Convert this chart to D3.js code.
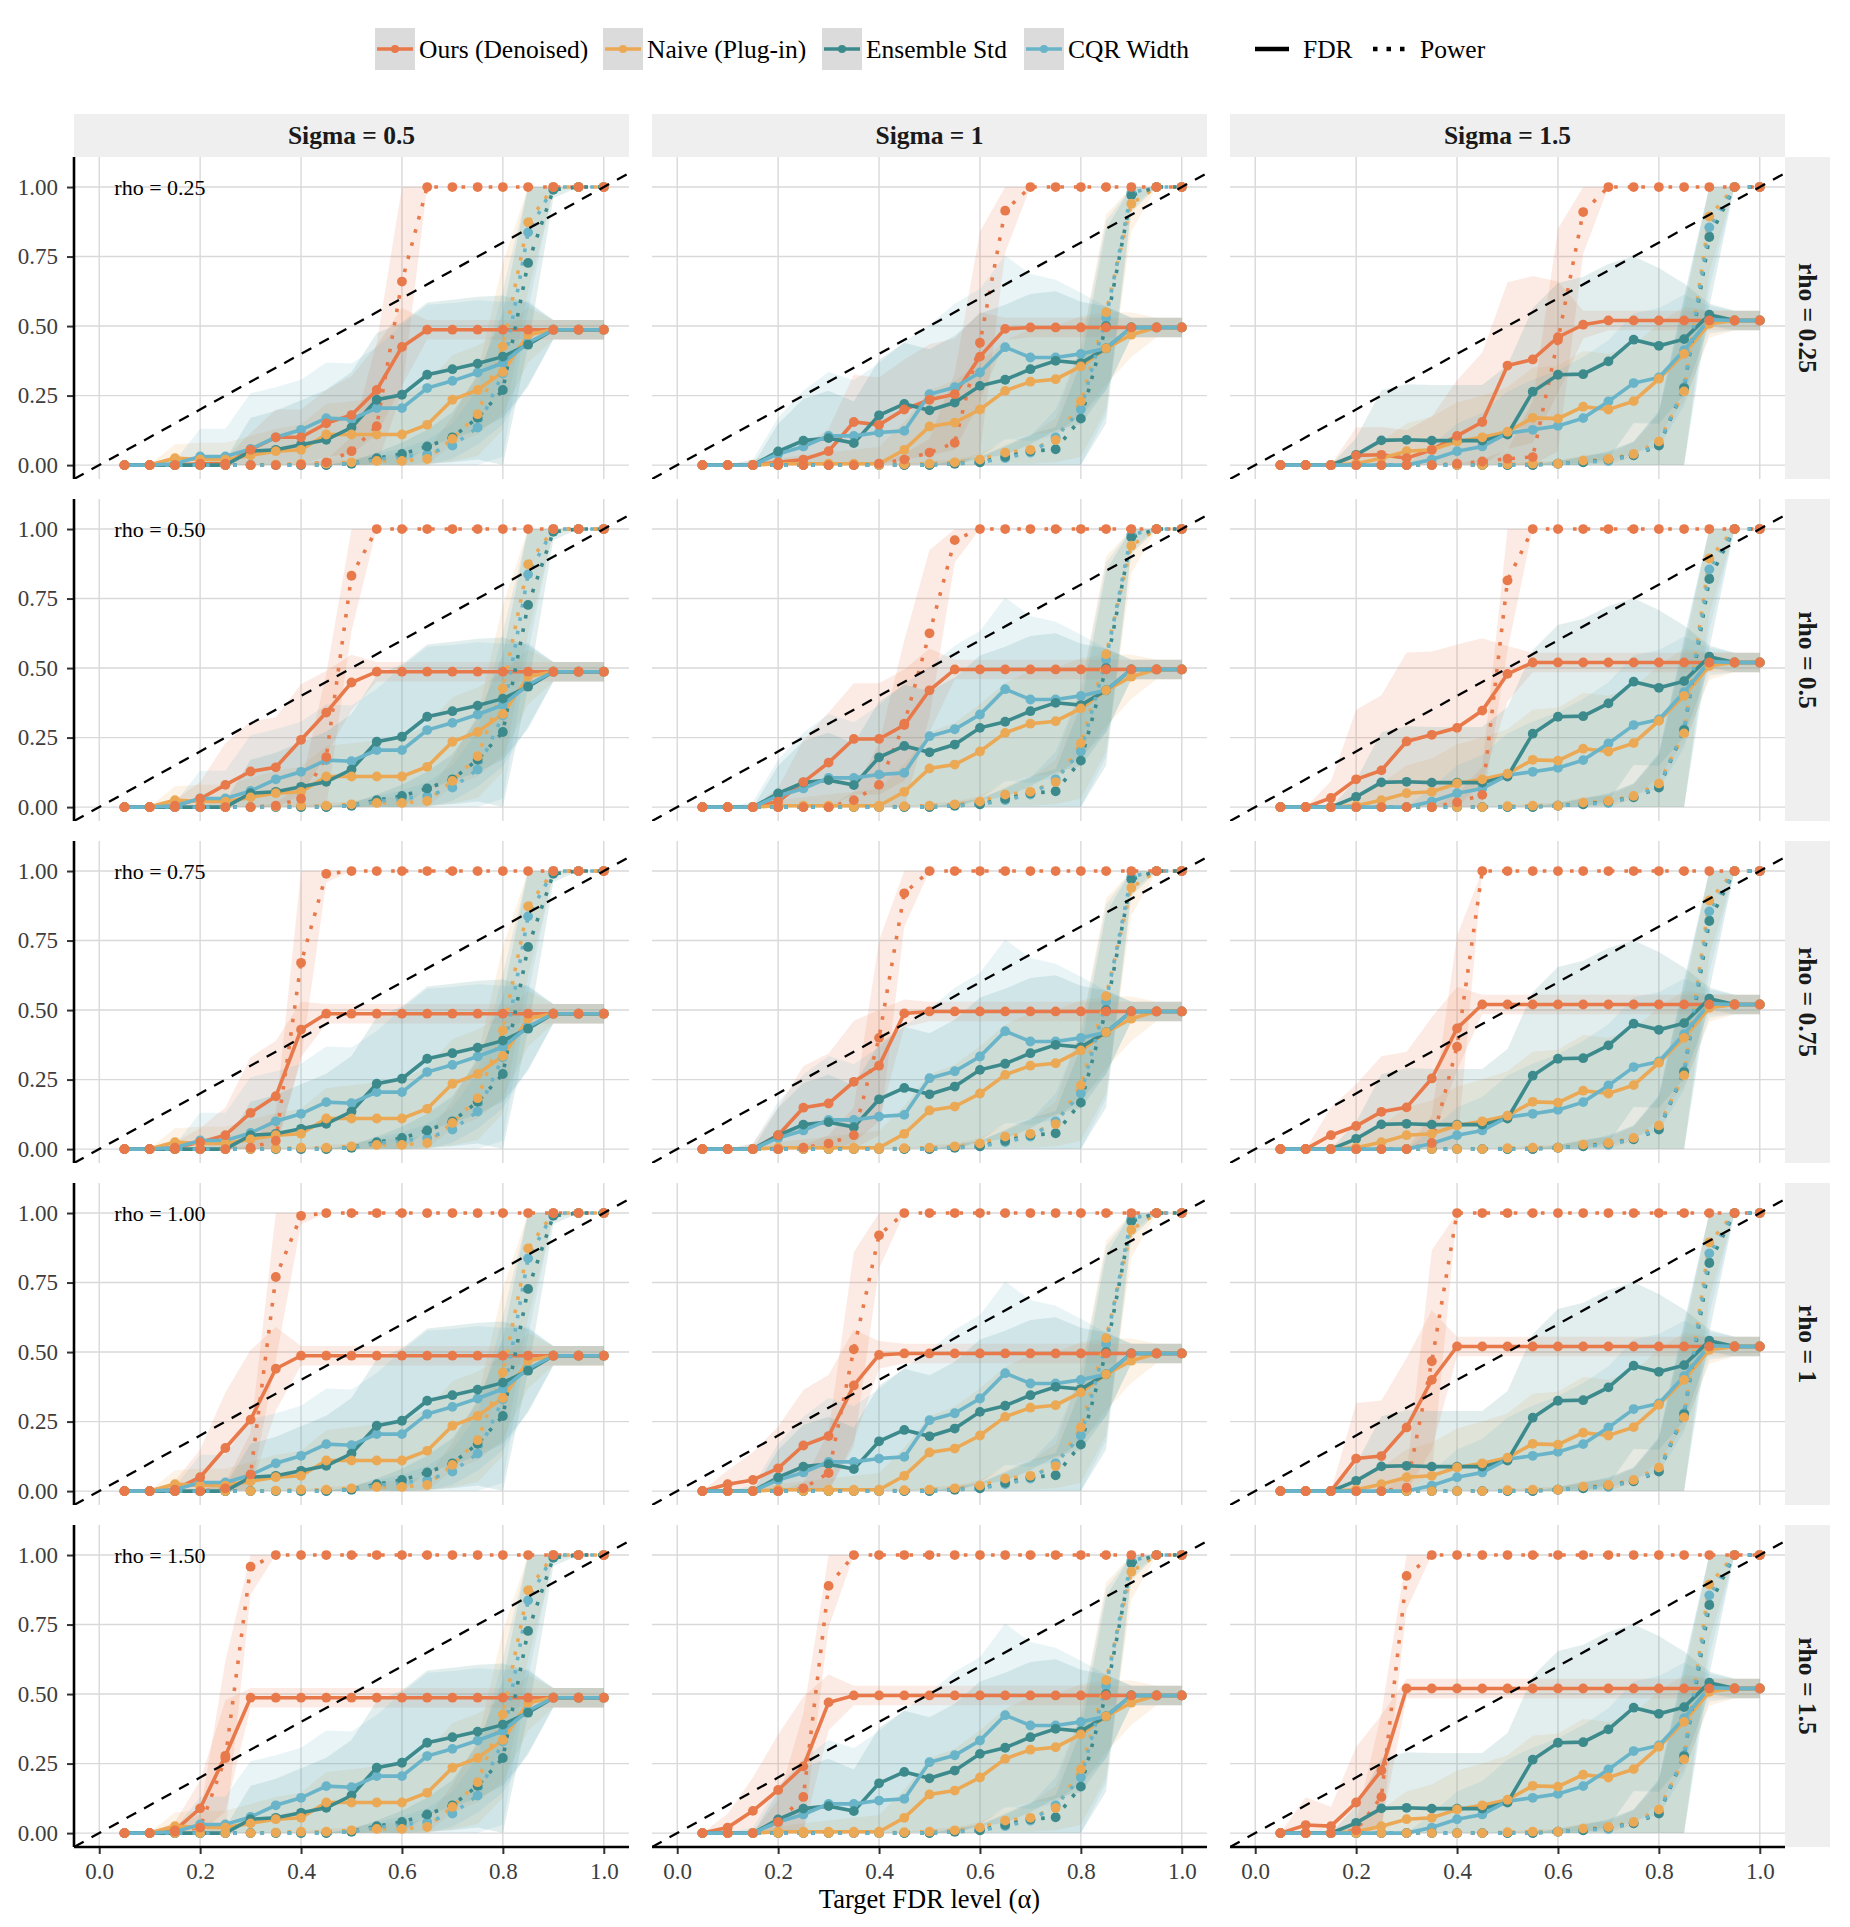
<!DOCTYPE html>
<html>
<head>
<meta charset="utf-8">
<script src="https://cdn.jsdelivr.net/npm/d3@7"></script>
<style>
  body { margin: 0; background: #fff; }
  svg { display: block; font-family: "Liberation Serif", "Times New Roman", serif; }
</style>
</head>
<body>
<div id="chart"></div>
<script>
// ---- data ----
const alphas = [0.05,0.1,0.15,0.2,0.25,0.3,0.35,0.4,0.45,0.5,0.55,0.6,0.65,0.7,0.75,0.8,0.85,0.9,0.95,1.0];
const sigmaLabels = ["Sigma = 0.5", "Sigma = 1", "Sigma = 1.5"];
const rhoStrip = ["rho = 0.25", "rho = 0.5", "rho = 0.75", "rho = 1", "rho = 1.5"];
const rhoNote = ["rho = 0.25", "rho = 0.50", "rho = 0.75", "rho = 1.00", "rho = 1.50"];
const methods = ["Ours (Denoised)", "Naive (Plug-in)", "Ensemble Std", "CQR Width"];
const colors = ["#E8794A", "#EBA955", "#3C8A8C", "#69B4C8"];
const xTicks = [0, 0.2, 0.4, 0.6, 0.8, 1.0];
const yTicks = [0, 0.25, 0.5, 0.75, 1.0];

// baselines: one series per sigma (same in every rho row)
const naiveFdr = [
  [0,0,0.025,0.02,0.02,0.035,0.05,0.055,0.11,0.11,0.11,0.11,0.145,0.235,0.27,0.335,0.469,0.487,0.487,0.487],
  [0,0,0,0.005,0.005,0.005,0.005,0.005,0.055,0.139,0.153,0.2,0.267,0.3,0.309,0.355,0.42,0.469,0.495,0.495],
  [0,0,0,0.005,0.025,0.05,0.055,0.085,0.1,0.12,0.17,0.167,0.21,0.2,0.23,0.31,0.4,0.508,0.52,0.52]
];
const ensFdr = [
  [0,0,0,0,0,0.05,0.055,0.073,0.091,0.135,0.235,0.253,0.325,0.345,0.365,0.39,0.433,0.487,0.487,0.487],
  [0,0,0,0.049,0.088,0.097,0.079,0.179,0.22,0.197,0.225,0.285,0.307,0.345,0.375,0.367,0.42,0.495,0.495,0.495],
  [0,0,0,0.037,0.089,0.091,0.088,0.088,0.088,0.11,0.264,0.325,0.327,0.373,0.451,0.429,0.453,0.541,0.52,0.52]
];
const cqrFdr = [
  [0,0,0.005,0.031,0.031,0.058,0.1,0.127,0.169,0.165,0.205,0.205,0.277,0.303,0.333,0.367,0.44,0.487,0.487,0.487],
  [0,0,0,0.04,0.067,0.105,0.105,0.117,0.123,0.255,0.28,0.333,0.424,0.387,0.387,0.4,0.42,0.495,0.495,0.495],
  [0,0,0,0,0,0,0.02,0.05,0.067,0.115,0.127,0.141,0.169,0.229,0.295,0.315,0.413,0.523,0.52,0.52]
];
const naivePow = [
  [0,0,0,0,0,0,0.002,0.005,0.005,0.01,0.015,0.015,0.022,0.094,0.183,0.427,0.873,1,1,1],
  [0,0,0,0,0,0,0,0,0.003,0.005,0.01,0.02,0.045,0.055,0.09,0.23,0.55,0.94,1,1],
  [0,0,0,0,0,0,0,0,0,0.003,0.005,0.005,0.016,0.022,0.04,0.085,0.265,0.894,1,1]
];
const ensPow = [
  [0,0,0,0,0,0,0,0,0,0.005,0.025,0.04,0.067,0.1,0.17,0.27,0.727,0.99,1,1],
  [0,0,0,0,0,0,0,0,0,0,0.005,0.01,0.03,0.05,0.057,0.167,0.5,0.97,1,1],
  [0,0,0,0,0,0,0,0,0,0,0,0.005,0.01,0.02,0.035,0.07,0.277,0.82,1,1]
];
const cqrPow = [
  [0,0,0,0,0,0,0,0,0,0.005,0.02,0.03,0.04,0.07,0.135,0.33,0.837,1,1,1],
  [0,0,0,0,0,0,0,0,0,0,0.005,0.01,0.025,0.045,0.1,0.2,0.53,0.98,1,1],
  [0,0,0,0,0,0,0,0,0,0,0,0.005,0.01,0.015,0.035,0.075,0.28,0.855,1,1]
];
// ribbon half-widths (sd) of the baselines
const naiveFdrSd = [
  [0,0,0.05,0.06,0.06,0.07,0.08,0.09,0.11,0.12,0.13,0.14,0.15,0.16,0.16,0.15,0.1,0.035,0.035,0.035],
  [0,0,0.01,0.02,0.03,0.04,0.05,0.06,0.1,0.13,0.15,0.17,0.18,0.19,0.19,0.18,0.13,0.08,0.035,0.035],
  [0,0,0.01,0.03,0.06,0.1,0.12,0.14,0.15,0.16,0.18,0.19,0.2,0.2,0.2,0.2,0.17,0.05,0.035,0.035]
];
const ensFdrSd = [
  [0,0,0,0.01,0.02,0.12,0.14,0.16,0.18,0.2,0.24,0.26,0.26,0.25,0.24,0.22,0.15,0.035,0.035,0.035],
  [0,0,0,0.1,0.15,0.17,0.15,0.2,0.22,0.22,0.24,0.26,0.27,0.27,0.25,0.22,0.15,0.035,0.035,0.035],
  [0,0,0,0.06,0.18,0.2,0.2,0.2,0.2,0.25,0.3,0.33,0.35,0.35,0.3,0.28,0.2,0.04,0.035,0.035]
];
const cqrFdrSd = [
  [0,0,0.01,0.1,0.1,0.2,0.18,0.18,0.2,0.2,0.22,0.3,0.3,0.28,0.26,0.22,0.15,0.035,0.035,0.035],
  [0,0,0.02,0.13,0.2,0.23,0.2,0.25,0.32,0.25,0.3,0.3,0.33,0.3,0.28,0.22,0.15,0.035,0.035,0.035],
  [0,0,0,0,0,0,0.05,0.1,0.12,0.15,0.18,0.2,0.22,0.22,0.25,0.25,0.2,0.05,0.035,0.035]
];
const naivePowSd = [
  [0,0,0,0,0,0,0,0,0.01,0.01,0.02,0.02,0.03,0.08,0.15,0.3,0.25,0.02,0,0],
  [0,0,0,0,0,0,0,0,0,0.01,0.01,0.02,0.04,0.05,0.08,0.2,0.35,0.1,0,0],
  [0,0,0,0,0,0,0,0,0,0,0.01,0.01,0.02,0.02,0.04,0.1,0.3,0.2,0,0]
];
const ensPowSd = [
  [0,0,0,0,0,0,0,0,0,0.01,0.02,0.04,0.06,0.09,0.15,0.28,0.3,0.03,0,0],
  [0,0,0,0,0,0,0,0,0,0,0.01,0.02,0.04,0.06,0.08,0.2,0.35,0.06,0,0],
  [0,0,0,0,0,0,0,0,0,0,0,0.01,0.02,0.03,0.05,0.12,0.32,0.25,0,0]
];
const cqrPowSd = [
  [0,0,0,0,0,0,0,0,0,0.01,0.02,0.03,0.05,0.08,0.14,0.3,0.28,0,0,0],
  [0,0,0,0,0,0,0,0,0,0,0.01,0.02,0.04,0.06,0.1,0.22,0.35,0.05,0,0],
  [0,0,0,0,0,0,0,0,0,0,0,0.01,0.02,0.03,0.05,0.12,0.33,0.22,0,0]
];

// ours: one row per rho, one series per sigma
const oursFdrRho025 = [
  [0,0,0,0.005,0.005,0.055,0.1,0.1,0.15,0.18,0.27,0.425,0.487,0.487,0.487,0.487,0.487,0.487,0.487,0.487],
  [0,0,0,0.01,0.02,0.05,0.155,0.145,0.2,0.235,0.255,0.39,0.49,0.495,0.495,0.495,0.495,0.495,0.495,0.495],
  [0,0,0,0.035,0.037,0.025,0.055,0.105,0.155,0.358,0.38,0.46,0.505,0.52,0.52,0.52,0.52,0.52,0.52,0.52]
];
const oursFdrRho050 = [
  [0,0,0.005,0.03,0.08,0.128,0.143,0.242,0.34,0.448,0.487,0.487,0.487,0.487,0.487,0.487,0.487,0.487,0.487,0.487],
  [0,0,0,0.02,0.09,0.16,0.245,0.245,0.295,0.42,0.495,0.495,0.495,0.495,0.495,0.495,0.495,0.495,0.495,0.495],
  [0,0,0.033,0.1,0.132,0.236,0.26,0.285,0.347,0.479,0.52,0.52,0.52,0.52,0.52,0.52,0.52,0.52,0.52,0.52]
];
const oursFdrRho075 = [
  [0,0,0.005,0.025,0.05,0.13,0.19,0.43,0.487,0.487,0.487,0.487,0.487,0.487,0.487,0.487,0.487,0.487,0.487,0.487],
  [0,0,0,0.05,0.149,0.164,0.242,0.3,0.488,0.495,0.495,0.495,0.495,0.495,0.495,0.495,0.495,0.495,0.495,0.495],
  [0,0,0.05,0.083,0.134,0.15,0.254,0.434,0.52,0.52,0.52,0.52,0.52,0.52,0.52,0.52,0.52,0.52,0.52,0.52]
];
const oursFdrRho100 = [
  [0,0,0.005,0.05,0.155,0.257,0.44,0.487,0.487,0.487,0.487,0.487,0.487,0.487,0.487,0.487,0.487,0.487,0.487,0.487],
  [0,0.025,0.04,0.082,0.164,0.198,0.38,0.49,0.495,0.495,0.495,0.495,0.495,0.495,0.495,0.495,0.495,0.495,0.495,0.495],
  [0,0,0,0.117,0.126,0.229,0.4,0.52,0.52,0.52,0.52,0.52,0.52,0.52,0.52,0.52,0.52,0.52,0.52,0.52]
];
const oursFdrRho150 = [
  [0,0,0.01,0.089,0.278,0.487,0.487,0.487,0.487,0.487,0.487,0.487,0.487,0.487,0.487,0.487,0.487,0.487,0.487,0.487],
  [0,0.02,0.08,0.155,0.24,0.47,0.495,0.495,0.495,0.495,0.495,0.495,0.495,0.495,0.495,0.495,0.495,0.495,0.495,0.495],
  [0,0.029,0.025,0.11,0.225,0.52,0.52,0.52,0.52,0.52,0.52,0.52,0.52,0.52,0.52,0.52,0.52,0.52,0.52,0.52]
];
const oursPowRho025 = [
  [0,0,0,0,0,0,0,0.002,0.01,0.05,0.14,0.66,1,1,1,1,1,1,1,1],
  [0,0,0,0,0,0,0,0.005,0.02,0.045,0.08,0.44,0.915,1,1,1,1,1,1,1],
  [0,0,0,0,0,0,0,0.005,0.013,0.023,0.029,0.45,0.91,1,1,1,1,1,1,1]
];
const oursPowRho050 = [
  [0,0,0,0,0,0,0.005,0.03,0.18,0.832,1,1,1,1,1,1,1,1,1,1],
  [0,0,0,0,0,0,0.025,0.08,0.3,0.625,0.96,1,1,1,1,1,1,1,1,1],
  [0,0,0,0,0,0,0,0.017,0.044,0.815,1,1,1,1,1,1,1,1,1,1]
];
const oursPowRho075 = [
  [0,0,0,0,0,0.005,0.03,0.67,0.99,1,1,1,1,1,1,1,1,1,1,1],
  [0,0,0,0,0.005,0.02,0.05,0.4,0.92,1,1,1,1,1,1,1,1,1,1,1],
  [0,0,0,0,0,0,0.022,0.368,1,1,1,1,1,1,1,1,1,1,1,1]
];
const oursPowRho100 = [
  [0,0,0,0,0.01,0.06,0.77,0.99,1,1,1,1,1,1,1,1,1,1,1,1],
  [0,0,0,0,0.01,0.065,0.51,0.92,1,1,1,1,1,1,1,1,1,1,1,1],
  [0,0,0,0,0,0.012,0.467,1,1,1,1,1,1,1,1,1,1,1,1,1]
];
const oursPowRho150 = [
  [0,0,0.005,0.02,0.27,0.958,1,1,1,1,1,1,1,1,1,1,1,1,1,1],
  [0,0,0,0.04,0.13,0.889,1,1,1,1,1,1,1,1,1,1,1,1,1,1],
  [0,0,0,0.01,0.13,0.925,1,1,1,1,1,1,1,1,1,1,1,1,1,1]
];
const oursFdrSdRho025 = [
  [0,0,0,0.02,0.02,0.06,0.1,0.1,0.12,0.14,0.16,0.14,0.035,0.035,0.035,0.035,0.035,0.035,0.035,0.035],
  [0,0,0.02,0.03,0.05,0.08,0.17,0.17,0.18,0.2,0.2,0.16,0.04,0.035,0.035,0.035,0.035,0.035,0.035,0.035],
  [0,0,0,0.1,0.1,0.1,0.12,0.2,0.25,0.3,0.3,0.2,0.05,0.035,0.035,0.035,0.035,0.035,0.035,0.035]
];
const oursFdrSdRho050 = [
  [0,0,0.02,0.06,0.15,0.18,0.18,0.2,0.15,0.1,0.035,0.035,0.035,0.035,0.035,0.035,0.035,0.035,0.035,0.035],
  [0,0,0,0.05,0.15,0.18,0.2,0.2,0.2,0.15,0.035,0.035,0.035,0.035,0.035,0.035,0.035,0.035,0.035,0.035],
  [0,0,0.06,0.25,0.27,0.32,0.3,0.3,0.26,0.1,0.035,0.035,0.035,0.035,0.035,0.035,0.035,0.035,0.035,0.035]
];
const oursFdrSdRho075 = [
  [0,0,0.02,0.05,0.1,0.2,0.2,0.1,0.035,0.035,0.035,0.035,0.035,0.035,0.035,0.035,0.035,0.035,0.035,0.035],
  [0,0,0.02,0.1,0.15,0.18,0.22,0.2,0.05,0.035,0.035,0.035,0.035,0.035,0.035,0.035,0.035,0.035,0.035,0.035],
  [0,0,0.1,0.15,0.2,0.2,0.22,0.15,0.035,0.035,0.035,0.035,0.035,0.035,0.035,0.035,0.035,0.035,0.035,0.035]
];
const oursFdrSdRho100 = [
  [0,0,0.03,0.1,0.2,0.25,0.15,0.035,0.035,0.035,0.035,0.035,0.035,0.035,0.035,0.035,0.035,0.035,0.035,0.035],
  [0,0.05,0.1,0.15,0.2,0.22,0.2,0.05,0.035,0.035,0.035,0.035,0.035,0.035,0.035,0.035,0.035,0.035,0.035,0.035],
  [0,0,0,0.2,0.2,0.25,0.25,0.035,0.035,0.035,0.035,0.035,0.035,0.035,0.035,0.035,0.035,0.035,0.035,0.035]
];
const oursFdrSdRho150 = [
  [0,0,0.03,0.1,0.2,0.035,0.035,0.035,0.035,0.035,0.035,0.035,0.035,0.035,0.035,0.035,0.035,0.035,0.035,0.035],
  [0,0.05,0.12,0.2,0.25,0.1,0.035,0.035,0.035,0.035,0.035,0.035,0.035,0.035,0.035,0.035,0.035,0.035,0.035,0.035],
  [0,0.1,0.07,0.2,0.2,0.035,0.035,0.035,0.035,0.035,0.035,0.035,0.035,0.035,0.035,0.035,0.035,0.035,0.035,0.035]
];
const oursPowSdRho025 = [
  [0,0,0,0,0,0,0,0,0.01,0.05,0.3,0.4,0,0,0,0,0,0,0,0],
  [0,0,0,0,0,0,0,0,0.02,0.05,0.25,0.4,0.15,0,0,0,0,0,0,0],
  [0,0,0,0,0,0,0,0,0.01,0.03,0.2,0.4,0.15,0,0,0,0,0,0,0]
];
const oursPowSdRho050 = [
  [0,0,0,0,0,0,0.01,0.05,0.3,0.2,0,0,0,0,0,0,0,0,0,0],
  [0,0,0,0,0,0,0.03,0.15,0.3,0.3,0.08,0,0,0,0,0,0,0,0,0],
  [0,0,0,0,0,0,0,0.03,0.1,0.25,0,0,0,0,0,0,0,0,0,0]
];
const oursPowSdRho075 = [
  [0,0,0,0,0,0.01,0.1,0.35,0.03,0,0,0,0,0,0,0,0,0,0,0],
  [0,0,0,0,0.01,0.03,0.1,0.35,0.12,0,0,0,0,0,0,0,0,0,0,0],
  [0,0,0,0,0,0,0.1,0.4,0,0,0,0,0,0,0,0,0,0,0,0]
];
const oursPowSdRho100 = [
  [0,0,0,0,0.02,0.15,0.3,0.03,0,0,0,0,0,0,0,0,0,0,0,0],
  [0,0,0,0,0.02,0.15,0.35,0.12,0,0,0,0,0,0,0,0,0,0,0,0],
  [0,0,0,0,0,0.05,0.4,0,0,0,0,0,0,0,0,0,0,0,0,0]
];
const oursPowSdRho150 = [
  [0,0,0.01,0.05,0.35,0.1,0,0,0,0,0,0,0,0,0,0,0,0,0,0],
  [0,0,0,0.08,0.3,0.15,0,0,0,0,0,0,0,0,0,0,0,0,0,0],
  [0,0,0,0.03,0.3,0.12,0,0,0,0,0,0,0,0,0,0,0,0,0,0]
];

const oursFdr = [oursFdrRho025, oursFdrRho050, oursFdrRho075, oursFdrRho100, oursFdrRho150];
const oursPow = [oursPowRho025, oursPowRho050, oursPowRho075, oursPowRho100, oursPowRho150];
const oursFdrSd = [oursFdrSdRho025, oursFdrSdRho050, oursFdrSdRho075, oursFdrSdRho100, oursFdrSdRho150];
const oursPowSd = [oursPowSdRho025, oursPowSdRho050, oursPowSdRho075, oursPowSdRho100, oursPowSdRho150];

// sanity check on series lengths
[naiveFdr, ensFdr, cqrFdr, naivePow, ensPow, cqrPow, naiveFdrSd, ensFdrSd, cqrFdrSd, naivePowSd, ensPowSd, cqrPowSd]
  .concat(oursFdr, oursPow, oursFdrSd, oursPowSd)
  .forEach((set, k) => set.forEach((s, j) => {
    if (s.length !== alphas.length) throw new Error(`series ${k}/${j} has ${s.length} values`);
  }));

// ---- layout ----
const W = 1850, H = 1927;
const panelW = 555, panelH = 322;
const colX = [74, 652, 1230];
const rowY = [157, 499, 841, 1183, 1525];
const stripTop = 114, stripH = 43, stripRightW = 45;
const serif = "Liberation Serif, Times New Roman, serif";

const svg = d3.select("#chart").append("svg")
    .attr("width", W)
    .attr("height", H);
svg.append("rect").attr("width", W).attr("height", H).attr("fill", "#fff");

const x = d3.scaleLinear().domain([-0.05, 1.05]).range([0, panelW]);
const y = d3.scaleLinear().domain([-0.05, 1.108]).range([panelH, 0]);

const area = d3.area()
    .x(d => x(d.a))
    .y0(d => y(Math.max(0, d.v - d.s)))
    .y1(d => y(Math.min(1, d.v + d.s)));
const line = d3.line().x(d => x(d.a)).y(d => y(d.v));

const panelSeries = (r, c) => [
    { m: 0, dotted: false, mean: oursFdr[r][c], sd: oursFdrSd[r][c] },
    { m: 0, dotted: true,  mean: oursPow[r][c], sd: oursPowSd[r][c] },
    { m: 1, dotted: false, mean: naiveFdr[c], sd: naiveFdrSd[c] },
    { m: 1, dotted: true,  mean: naivePow[c], sd: naivePowSd[c] },
    { m: 2, dotted: false, mean: ensFdr[c], sd: ensFdrSd[c] },
    { m: 2, dotted: true,  mean: ensPow[c], sd: ensPowSd[c] },
    { m: 3, dotted: false, mean: cqrFdr[c], sd: cqrFdrSd[c] },
    { m: 3, dotted: true,  mean: cqrPow[c], sd: cqrPowSd[c] }
].map(s => ({ ...s, pts: alphas.map((a, i) => ({ a: a, v: s.mean[i], s: s.sd[i] })) }));

rowY.forEach((top, r) => {
    colX.forEach((left, c) => {
        const g = svg.append("g").attr("transform", `translate(${left},${top})`);
        g.append("clipPath").attr("id", `clip-${r}-${c}`)
            .append("rect").attr("width", panelW).attr("height", panelH);

        // grid
        g.append("g").selectAll("line").data(xTicks).join("line")
            .attr("x1", d => x(d)).attr("x2", d => x(d))
            .attr("y1", 0).attr("y2", panelH)
            .attr("stroke", "#d9d9d9").attr("stroke-width", 1.4);
        g.append("g").selectAll("line").data(yTicks).join("line")
            .attr("x1", 0).attr("x2", panelW)
            .attr("y1", d => y(d)).attr("y2", d => y(d))
            .attr("stroke", "#d9d9d9").attr("stroke-width", 1.4);

        const plot = g.append("g").attr("clip-path", `url(#clip-${r}-${c})`);
        const ser = panelSeries(r, c);

        // ribbons
        plot.append("g").selectAll("path").data(ser).join("path")
            .attr("d", s => area(s.pts))
            .attr("fill", s => colors[s.m])
            .attr("fill-opacity", 0.15);

        // lines (CQR ends up on top)
        plot.append("g").selectAll("path").data(ser).join("path")
            .attr("d", s => line(s.pts))
            .attr("fill", "none")
            .attr("stroke", s => colors[s.m])
            .attr("stroke-width", 3.6)
            .attr("stroke-dasharray", s => s.dotted ? "3.6 10" : null);

        // points (ours on top)
        const pg = plot.append("g");
        ser.slice().reverse().forEach(s => {
            pg.append("g").selectAll("circle").data(s.pts).join("circle")
                .attr("cx", d => x(d.a))
                .attr("cy", d => y(d.v))
                .attr("r", 4.9)
                .attr("fill", colors[s.m]);
        });

        // y = x reference
        plot.append("line")
            .attr("x1", x(-0.05)).attr("y1", y(-0.05))
            .attr("x2", x(1.05)).attr("y2", y(1.05))
            .attr("stroke", "#000")
            .attr("stroke-width", 2.3)
            .attr("stroke-dasharray", "11 9");

        if (c === 0) {
            g.append("text")
                .attr("x", x(0.03)).attr("y", y(1.0))
                .attr("dy", "0.35em")
                .attr("font-size", 22)
                .attr("fill", "#000")
                .text(rhoNote[r]);

            const ya = g.append("g")
                .call(d3.axisLeft(y).tickValues(yTicks).tickFormat(d3.format(".2f")).tickSize(7).tickPadding(9));
            ya.select(".domain").remove();
            ya.selectAll(".tick line").attr("stroke", "#333").attr("stroke-width", 2);
            ya.selectAll(".tick text").attr("font-size", 23).attr("fill", "#3d3d3d")
                .attr("font-family", serif);
            g.append("line").attr("x1", 0).attr("x2", 0).attr("y1", 0).attr("y2", panelH)
                .attr("stroke", "#000").attr("stroke-width", 2.6);
        }
        if (r === rowY.length - 1) {
            const xa = g.append("g").attr("transform", `translate(0,${panelH})`)
                .call(d3.axisBottom(x).tickValues(xTicks).tickFormat(d3.format(".1f")).tickSize(7).tickPadding(9));
            xa.select(".domain").remove();
            xa.selectAll(".tick line").attr("stroke", "#333").attr("stroke-width", 2);
            xa.selectAll(".tick text").attr("font-size", 23).attr("fill", "#3d3d3d")
                .attr("font-family", serif);
            g.append("line").attr("x1", 0).attr("x2", panelW).attr("y1", panelH).attr("y2", panelH)
                .attr("stroke", "#000").attr("stroke-width", 2.6);
        }
    });
});

// facet strips
colX.forEach((left, c) => {
    svg.append("rect").attr("x", left).attr("y", stripTop).attr("width", panelW).attr("height", stripH)
        .attr("fill", "#efefef");
    svg.append("text")
        .attr("x", left + panelW / 2).attr("y", stripTop + stripH / 2)
        .attr("dy", "0.35em").attr("text-anchor", "middle")
        .attr("font-size", 25.5).attr("font-weight", "bold").attr("fill", "#1a1a1a")
        .text(sigmaLabels[c]);
});
const stripX = colX[2] + panelW;
rowY.forEach((top, r) => {
    svg.append("rect").attr("x", stripX).attr("y", top).attr("width", stripRightW).attr("height", panelH)
        .attr("fill", "#efefef");
    svg.append("text")
        .attr("transform", `translate(${stripX + stripRightW / 2},${top + panelH / 2}) rotate(90)`)
        .attr("dy", "0.35em").attr("text-anchor", "middle")
        .attr("font-size", 25.5).attr("font-weight", "bold").attr("fill", "#1a1a1a")
        .text(rhoStrip[r]);
});

// axis title
svg.append("text")
    .attr("x", (colX[0] + colX[2] + panelW) / 2).attr("y", 1899)
    .attr("dy", "0.35em").attr("text-anchor", "middle")
    .attr("font-size", 26.5).attr("fill", "#000")
    .text("Target FDR level (α)");

// legend
const legY = 49;
const keyX = [375, 603, 822, 1024];
methods.forEach((name, i) => {
    const k = svg.append("g").attr("transform", `translate(${keyX[i]},${legY - 21})`);
    k.append("rect").attr("width", 40).attr("height", 42).attr("fill", "#dbdbdb");
    k.append("line").attr("x1", 2).attr("x2", 38).attr("y1", 21).attr("y2", 21)
        .attr("stroke", colors[i]).attr("stroke-width", 3.6);
    k.append("circle").attr("cx", 20).attr("cy", 21).attr("r", 4).attr("fill", colors[i]);
    svg.append("text").attr("x", keyX[i] + 44).attr("y", legY).attr("dy", "0.35em")
        .attr("font-size", 25.5).attr("fill", "#000").text(name);
});
svg.append("line").attr("x1", 1255).attr("x2", 1289).attr("y1", legY).attr("y2", legY)
    .attr("stroke", "#000").attr("stroke-width", 4.5);
svg.append("text").attr("x", 1303).attr("y", legY).attr("dy", "0.35em")
    .attr("font-size", 25.5).attr("fill", "#000").text("FDR");
svg.append("line").attr("x1", 1373).attr("x2", 1405).attr("y1", legY).attr("y2", legY)
    .attr("stroke", "#000").attr("stroke-width", 4.5).attr("stroke-dasharray", "4.5 9");
svg.append("text").attr("x", 1420).attr("y", legY).attr("dy", "0.35em")
    .attr("font-size", 25.5).attr("fill", "#000").text("Power");
</script>
</body>
</html>
